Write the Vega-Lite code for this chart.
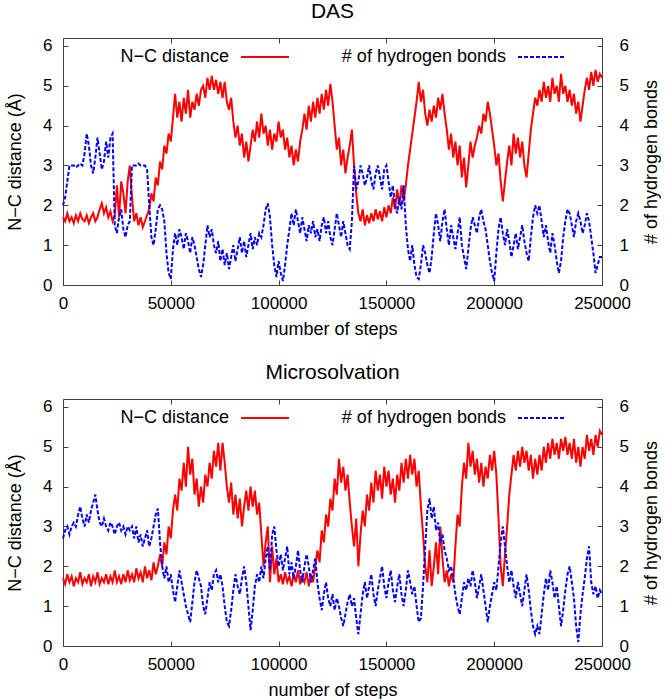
{
"$schema": "https://vega.github.io/schema/vega-lite/v6.json",
"padding": {"left": 5, "top": 0, "right": 0, "bottom": 0},
"background": "white",
"spacing": 22,
"config": {
  "font": "Liberation Sans",
  "view": {"stroke": "#404040", "strokeWidth": 1},
  "axis": {"grid": false, "domain": false, "tickSize": -5, "tickColor": "#404040", "labelFontSize": 17, "titleFontSize": 18, "titleFontWeight": "normal", "labelColor": "#000", "titleColor": "#000", "labelFlush": false, "labelOverlap": false, "labelPadding": 16, "titlePadding": 8},
  "axisX": {"labelPadding": 15, "titlePadding": 9},
  "title": {"fontSize": 21, "fontWeight": "normal", "color": "#000", "offset": 10},
  "legend": {"orient": "none", "direction": "horizontal", "legendX": 177, "legendY": -6, "title": null, "symbolType": "stroke", "symbolSize": 2304, "symbolStrokeWidth": 2, "labelFontSize": 18, "labelColor": "#000", "labelAlign": "right", "labelOffset": -61, "labelLimit": 400, "columnPadding": 48}
},
"datasets": {
"das": [
{"s":0,"d":1.7,"h":2.0},{"s":1000,"d":1.6,"h":2.2},{"s":2000,"d":1.8,"h":2.6},{"s":3000,"d":1.6,"h":3.0},{"s":4000,"d":1.7,"h":3.0},{"s":5000,"d":1.55,"h":3.0},{"s":6000,"d":1.75,"h":2.95},{"s":7000,"d":1.6,"h":3.0},{"s":8000,"d":1.8,"h":3.05},{"s":9000,"d":1.65,"h":3.0},
{"s":10000,"d":1.6,"h":3.3},{"s":11000,"d":1.75,"h":3.8},{"s":12000,"d":1.55,"h":3.5},{"s":13000,"d":1.7,"h":3.0},{"s":14000,"d":1.8,"h":2.8},{"s":15000,"d":1.6,"h":3.2},{"s":16000,"d":1.7,"h":3.7},{"s":17000,"d":1.9,"h":3.3},{"s":18000,"d":2.05,"h":2.9},{"s":19000,"d":1.8,"h":3.1},
{"s":20000,"d":1.95,"h":3.6},{"s":21000,"d":1.7,"h":3.2},{"s":22000,"d":1.85,"h":3.7},{"s":23000,"d":1.6,"h":3.8},{"s":24000,"d":1.75,"h":1.5},{"s":25000,"d":2.5,"h":1.3},{"s":26000,"d":1.7,"h":1.7},{"s":27000,"d":2.6,"h":1.9},{"s":28000,"d":2.3,"h":1.4},{"s":29000,"d":1.8,"h":1.2},
{"s":30000,"d":2.6,"h":1.5},{"s":31000,"d":3.0,"h":1.6},{"s":32000,"d":2.2,"h":3.0},{"s":33000,"d":1.6,"h":3.0},{"s":34000,"d":1.8,"h":3.0},{"s":35000,"d":1.5,"h":3.05},{"s":36000,"d":1.7,"h":3.0},{"s":37000,"d":1.45,"h":3.0},{"s":38000,"d":1.6,"h":3.0},{"s":39000,"d":1.75,"h":2.9},
{"s":40000,"d":1.9,"h":2.0},{"s":41000,"d":2.3,"h":1.2},{"s":42000,"d":2.1,"h":1.0},{"s":43000,"d":2.7,"h":1.4},{"s":44000,"d":2.5,"h":1.9},{"s":45000,"d":3.1,"h":2.0},{"s":46000,"d":2.9,"h":1.9},{"s":47000,"d":3.5,"h":1.6},{"s":48000,"d":3.3,"h":0.8},{"s":49000,"d":3.8,"h":0.3},
{"s":50000,"d":3.6,"h":0.15},{"s":51000,"d":4.2,"h":0.9},{"s":52000,"d":4.8,"h":1.3},{"s":53000,"d":4.2,"h":1.0},{"s":54000,"d":4.6,"h":1.4},{"s":55000,"d":4.1,"h":1.2},{"s":56000,"d":4.7,"h":0.9},{"s":57000,"d":4.3,"h":1.3},{"s":58000,"d":4.9,"h":1.1},{"s":59000,"d":4.2,"h":0.8},
{"s":60000,"d":4.6,"h":1.2},{"s":61000,"d":4.4,"h":1.0},{"s":62000,"d":4.8,"h":0.7},{"s":63000,"d":4.5,"h":0.4},{"s":64000,"d":4.9,"h":0.2},{"s":65000,"d":5.0,"h":0.5},{"s":66000,"d":4.7,"h":1.0},{"s":67000,"d":5.2,"h":1.5},{"s":68000,"d":4.9,"h":1.2},{"s":69000,"d":5.25,"h":1.4},
{"s":70000,"d":4.9,"h":1.0},{"s":71000,"d":5.15,"h":0.8},{"s":72000,"d":4.8,"h":1.1},{"s":73000,"d":5.1,"h":0.6},{"s":74000,"d":4.7,"h":0.9},{"s":75000,"d":5.1,"h":0.5},{"s":76000,"d":4.6,"h":0.8},{"s":77000,"d":4.4,"h":0.4},{"s":78000,"d":4.7,"h":0.7},{"s":79000,"d":4.1,"h":1.0},
{"s":80000,"d":3.7,"h":0.6},{"s":81000,"d":4.0,"h":0.9},{"s":82000,"d":3.5,"h":1.2},{"s":83000,"d":3.8,"h":0.8},{"s":84000,"d":3.2,"h":1.1},{"s":85000,"d":3.6,"h":0.7},{"s":86000,"d":3.1,"h":1.0},{"s":87000,"d":3.5,"h":1.3},{"s":88000,"d":3.9,"h":0.9},{"s":89000,"d":3.6,"h":1.2},
{"s":90000,"d":4.1,"h":1.0},{"s":91000,"d":3.7,"h":1.3},{"s":92000,"d":4.3,"h":1.2},{"s":93000,"d":3.8,"h":1.5},{"s":94000,"d":4.0,"h":1.9},{"s":95000,"d":3.5,"h":2.05},{"s":96000,"d":3.9,"h":1.7},{"s":97000,"d":3.4,"h":1.0},{"s":98000,"d":3.8,"h":0.5},{"s":99000,"d":3.6,"h":0.2},
{"s":100000,"d":4.1,"h":0.6},{"s":101000,"d":3.7,"h":0.3},{"s":102000,"d":3.9,"h":0.1},{"s":103000,"d":3.4,"h":0.5},{"s":104000,"d":3.7,"h":1.0},{"s":105000,"d":3.2,"h":1.4},{"s":106000,"d":3.5,"h":1.8},{"s":107000,"d":3.0,"h":1.5},{"s":108000,"d":3.4,"h":1.9},{"s":109000,"d":3.1,"h":1.6},
{"s":110000,"d":3.6,"h":1.3},{"s":111000,"d":3.9,"h":1.7},{"s":112000,"d":4.3,"h":1.4},{"s":113000,"d":3.9,"h":1.1},{"s":114000,"d":4.5,"h":1.5},{"s":115000,"d":4.1,"h":1.3},{"s":116000,"d":4.6,"h":1.6},{"s":117000,"d":4.2,"h":1.2},{"s":118000,"d":4.7,"h":1.4},{"s":119000,"d":4.3,"h":1.1},
{"s":120000,"d":4.8,"h":1.5},{"s":121000,"d":4.4,"h":1.7},{"s":122000,"d":4.9,"h":1.3},{"s":123000,"d":4.5,"h":1.6},{"s":124000,"d":5.05,"h":1.2},{"s":125000,"d":4.6,"h":1.0},{"s":126000,"d":4.0,"h":1.4},{"s":127000,"d":3.4,"h":1.8},{"s":128000,"d":3.7,"h":1.5},{"s":129000,"d":3.0,"h":1.2},
{"s":130000,"d":3.4,"h":1.6},{"s":131000,"d":2.8,"h":1.3},{"s":132000,"d":3.2,"h":1.0},{"s":133000,"d":3.5,"h":0.9},{"s":134000,"d":3.9,"h":1.6},{"s":135000,"d":3.0,"h":3.0},{"s":136000,"d":2.3,"h":2.4},{"s":137000,"d":1.8,"h":2.6},{"s":138000,"d":1.6,"h":3.0},{"s":139000,"d":1.9,"h":2.8},
{"s":140000,"d":1.5,"h":2.5},{"s":141000,"d":1.75,"h":2.7},{"s":142000,"d":1.55,"h":3.0},{"s":143000,"d":1.8,"h":2.6},{"s":144000,"d":1.6,"h":2.4},{"s":145000,"d":1.9,"h":2.8},{"s":146000,"d":1.65,"h":3.0},{"s":147000,"d":1.85,"h":2.7},{"s":148000,"d":1.6,"h":2.4},{"s":149000,"d":1.95,"h":2.9},
{"s":150000,"d":1.7,"h":3.0},{"s":151000,"d":2.0,"h":2.6},{"s":152000,"d":1.8,"h":2.2},{"s":153000,"d":2.2,"h":2.5},{"s":154000,"d":1.9,"h":2.0},{"s":155000,"d":2.4,"h":1.8},{"s":156000,"d":2.0,"h":2.2},{"s":157000,"d":2.5,"h":1.9},{"s":158000,"d":2.1,"h":2.5},{"s":159000,"d":2.5,"h":1.5},
{"s":160000,"d":3.0,"h":0.9},{"s":161000,"d":3.4,"h":0.6},{"s":162000,"d":3.8,"h":1.0},{"s":163000,"d":4.2,"h":0.5},{"s":164000,"d":4.6,"h":0.2},{"s":165000,"d":5.1,"h":0.15},{"s":166000,"d":4.6,"h":0.5},{"s":167000,"d":4.9,"h":1.0},{"s":168000,"d":4.3,"h":0.8},{"s":169000,"d":4.0,"h":0.5},
{"s":170000,"d":4.4,"h":0.3},{"s":171000,"d":4.1,"h":0.7},{"s":172000,"d":4.5,"h":1.3},{"s":173000,"d":4.2,"h":1.8},{"s":174000,"d":4.7,"h":1.5},{"s":175000,"d":4.4,"h":1.1},{"s":176000,"d":4.8,"h":1.6},{"s":177000,"d":4.3,"h":1.9},{"s":178000,"d":3.9,"h":1.4},{"s":179000,"d":3.4,"h":1.0},
{"s":180000,"d":3.8,"h":1.5},{"s":181000,"d":3.2,"h":1.2},{"s":182000,"d":3.6,"h":0.9},{"s":183000,"d":3.0,"h":1.3},{"s":184000,"d":3.5,"h":1.7},{"s":185000,"d":2.7,"h":1.0},{"s":186000,"d":3.2,"h":0.7},{"s":187000,"d":2.45,"h":0.4},{"s":188000,"d":3.0,"h":0.9},{"s":189000,"d":3.6,"h":1.4},
{"s":190000,"d":3.2,"h":1.7},{"s":191000,"d":3.5,"h":1.5},{"s":192000,"d":3.7,"h":1.3},{"s":193000,"d":4.0,"h":1.7},{"s":194000,"d":3.8,"h":1.9},{"s":195000,"d":4.3,"h":1.6},{"s":196000,"d":4.1,"h":1.4},{"s":197000,"d":4.6,"h":1.0},{"s":198000,"d":4.3,"h":0.6},{"s":199000,"d":3.9,"h":0.3},
{"s":200000,"d":3.5,"h":0.1},{"s":201000,"d":3.0,"h":0.8},{"s":202000,"d":3.3,"h":1.4},{"s":203000,"d":2.6,"h":1.7},{"s":204000,"d":2.1,"h":1.3},{"s":205000,"d":2.6,"h":1.0},{"s":206000,"d":3.1,"h":1.4},{"s":207000,"d":3.5,"h":1.1},{"s":208000,"d":3.0,"h":0.7},{"s":209000,"d":3.8,"h":1.0},
{"s":210000,"d":3.3,"h":1.3},{"s":211000,"d":3.7,"h":0.9},{"s":212000,"d":3.2,"h":1.2},{"s":213000,"d":3.6,"h":1.5},{"s":214000,"d":3.0,"h":1.1},{"s":215000,"d":2.7,"h":0.8},{"s":216000,"d":3.3,"h":0.6},{"s":217000,"d":3.9,"h":1.2},{"s":218000,"d":4.3,"h":1.7},{"s":219000,"d":4.7,"h":2.0},
{"s":220000,"d":4.5,"h":1.8},{"s":221000,"d":4.9,"h":2.0},{"s":222000,"d":4.6,"h":1.6},{"s":223000,"d":5.1,"h":1.2},{"s":224000,"d":4.7,"h":1.5},{"s":225000,"d":5.0,"h":1.1},{"s":226000,"d":4.6,"h":0.8},{"s":227000,"d":5.2,"h":1.3},{"s":228000,"d":4.8,"h":1.0},{"s":229000,"d":5.0,"h":0.6},
{"s":230000,"d":4.6,"h":0.3},{"s":231000,"d":5.3,"h":0.6},{"s":232000,"d":4.8,"h":1.2},{"s":233000,"d":5.0,"h":1.6},{"s":234000,"d":4.6,"h":1.9},{"s":235000,"d":4.9,"h":1.8},{"s":236000,"d":4.5,"h":1.5},{"s":237000,"d":4.8,"h":1.2},{"s":238000,"d":4.3,"h":1.6},{"s":239000,"d":4.6,"h":1.8},
{"s":240000,"d":4.1,"h":1.6},{"s":241000,"d":4.5,"h":1.3},{"s":242000,"d":4.9,"h":1.5},{"s":243000,"d":5.2,"h":1.8},{"s":244000,"d":4.9,"h":1.6},{"s":245000,"d":5.35,"h":1.2},{"s":246000,"d":5.0,"h":0.8},{"s":247000,"d":5.4,"h":0.3},{"s":248000,"d":5.1,"h":0.5},{"s":249000,"d":5.3,"h":0.7},
{"s":250000,"d":5.2,"h":0.7}
],
"mic": [
{"s":0,"d":1.7,"h":2.7},{"s":1000,"d":1.55,"h":2.9},{"s":2000,"d":1.8,"h":3.0},{"s":3000,"d":1.6,"h":2.8},{"s":4000,"d":1.75,"h":3.0},{"s":5000,"d":1.5,"h":3.1},{"s":6000,"d":1.7,"h":3.0},{"s":7000,"d":1.6,"h":3.3},{"s":8000,"d":1.85,"h":3.5},{"s":9000,"d":1.55,"h":3.2},
{"s":10000,"d":1.7,"h":3.0},{"s":11000,"d":1.6,"h":3.3},{"s":12000,"d":1.8,"h":3.1},{"s":13000,"d":1.5,"h":3.4},{"s":14000,"d":1.75,"h":3.6},{"s":15000,"d":1.6,"h":3.8},{"s":16000,"d":1.85,"h":3.4},{"s":17000,"d":1.55,"h":3.1},{"s":18000,"d":1.7,"h":3.0},{"s":19000,"d":1.6,"h":3.2},
{"s":20000,"d":1.8,"h":3.0},{"s":21000,"d":1.55,"h":2.9},{"s":22000,"d":1.75,"h":3.1},{"s":23000,"d":1.6,"h":3.0},{"s":24000,"d":1.9,"h":2.8},{"s":25000,"d":1.6,"h":3.0},{"s":26000,"d":1.75,"h":3.1},{"s":27000,"d":1.55,"h":2.9},{"s":28000,"d":1.8,"h":3.0},{"s":29000,"d":1.6,"h":2.8},
{"s":30000,"d":1.9,"h":3.0},{"s":31000,"d":1.65,"h":2.9},{"s":32000,"d":1.8,"h":3.0},{"s":33000,"d":1.6,"h":2.7},{"s":34000,"d":1.95,"h":3.0},{"s":35000,"d":1.7,"h":2.6},{"s":36000,"d":1.85,"h":2.8},{"s":37000,"d":1.6,"h":2.5},{"s":38000,"d":2.0,"h":2.7},{"s":39000,"d":1.7,"h":2.9},
{"s":40000,"d":1.9,"h":2.5},{"s":41000,"d":1.65,"h":2.7},{"s":42000,"d":2.1,"h":3.0},{"s":43000,"d":1.8,"h":3.3},{"s":44000,"d":2.0,"h":3.45},{"s":45000,"d":2.3,"h":2.6},{"s":46000,"d":2.0,"h":2.0},{"s":47000,"d":2.6,"h":1.7},{"s":48000,"d":2.3,"h":2.0},{"s":49000,"d":3.0,"h":1.6},
{"s":50000,"d":2.7,"h":1.8},{"s":51000,"d":3.4,"h":1.4},{"s":52000,"d":3.8,"h":1.1},{"s":53000,"d":3.4,"h":1.5},{"s":54000,"d":4.2,"h":1.9},{"s":55000,"d":3.9,"h":1.6},{"s":56000,"d":4.6,"h":1.3},{"s":57000,"d":4.0,"h":1.0},{"s":58000,"d":5.0,"h":0.8},{"s":59000,"d":4.3,"h":0.6},
{"s":60000,"d":4.7,"h":1.1},{"s":61000,"d":3.8,"h":1.6},{"s":62000,"d":4.2,"h":1.9},{"s":63000,"d":3.5,"h":1.7},{"s":64000,"d":4.0,"h":1.5},{"s":65000,"d":3.6,"h":1.0},{"s":66000,"d":4.3,"h":0.8},{"s":67000,"d":4.0,"h":1.2},{"s":68000,"d":4.6,"h":1.6},{"s":69000,"d":4.2,"h":1.4},
{"s":70000,"d":4.9,"h":1.8},{"s":71000,"d":4.5,"h":1.9},{"s":72000,"d":5.1,"h":1.6},{"s":73000,"d":4.4,"h":1.8},{"s":74000,"d":5.1,"h":1.5},{"s":75000,"d":4.6,"h":1.0},{"s":76000,"d":4.0,"h":0.6},{"s":77000,"d":3.6,"h":0.5},{"s":78000,"d":4.1,"h":0.9},{"s":79000,"d":3.3,"h":1.4},
{"s":80000,"d":3.8,"h":1.8},{"s":81000,"d":3.2,"h":1.5},{"s":82000,"d":3.7,"h":1.3},{"s":83000,"d":3.0,"h":1.7},{"s":84000,"d":3.5,"h":2.0},{"s":85000,"d":3.9,"h":1.6},{"s":86000,"d":3.4,"h":1.0},{"s":87000,"d":4.0,"h":0.4},{"s":88000,"d":3.5,"h":0.9},{"s":89000,"d":3.9,"h":1.5},
{"s":90000,"d":3.3,"h":1.8},{"s":91000,"d":3.6,"h":1.6},{"s":92000,"d":2.8,"h":2.0},{"s":93000,"d":2.0,"h":1.7},{"s":94000,"d":2.6,"h":2.2},{"s":95000,"d":3.0,"h":2.5},{"s":96000,"d":1.6,"h":1.9},{"s":97000,"d":2.5,"h":2.8},{"s":98000,"d":1.8,"h":3.0},{"s":99000,"d":2.2,"h":2.4},
{"s":100000,"d":1.6,"h":2.0},{"s":101000,"d":1.8,"h":2.3},{"s":102000,"d":1.55,"h":1.9},{"s":103000,"d":1.85,"h":2.2},{"s":104000,"d":1.6,"h":2.5},{"s":105000,"d":1.75,"h":1.8},{"s":106000,"d":1.5,"h":2.1},{"s":107000,"d":1.8,"h":1.7},{"s":108000,"d":1.6,"h":2.0},{"s":109000,"d":1.9,"h":2.4},
{"s":110000,"d":1.55,"h":1.9},{"s":111000,"d":1.75,"h":1.6},{"s":112000,"d":1.6,"h":2.0},{"s":113000,"d":1.85,"h":2.3},{"s":114000,"d":1.5,"h":2.0},{"s":115000,"d":1.8,"h":1.6},{"s":116000,"d":1.6,"h":1.9},{"s":117000,"d":2.0,"h":2.2},{"s":118000,"d":2.4,"h":1.6},{"s":119000,"d":2.1,"h":1.2},
{"s":120000,"d":2.9,"h":0.9},{"s":121000,"d":2.6,"h":1.3},{"s":122000,"d":3.3,"h":1.6},{"s":123000,"d":3.0,"h":1.2},{"s":124000,"d":3.7,"h":1.0},{"s":125000,"d":3.4,"h":1.3},{"s":126000,"d":4.2,"h":0.9},{"s":127000,"d":3.8,"h":1.2},{"s":128000,"d":4.7,"h":1.0},{"s":129000,"d":4.1,"h":0.7},
{"s":130000,"d":4.5,"h":0.5},{"s":131000,"d":3.9,"h":0.8},{"s":132000,"d":4.3,"h":1.1},{"s":133000,"d":3.6,"h":1.3},{"s":134000,"d":3.0,"h":1.0},{"s":135000,"d":2.5,"h":1.2},{"s":136000,"d":3.2,"h":0.7},{"s":137000,"d":2.0,"h":0.3},{"s":138000,"d":2.8,"h":0.8},{"s":139000,"d":3.4,"h":1.3},
{"s":140000,"d":3.0,"h":1.6},{"s":141000,"d":3.8,"h":1.2},{"s":142000,"d":3.4,"h":1.5},{"s":143000,"d":4.1,"h":1.8},{"s":144000,"d":3.6,"h":1.3},{"s":145000,"d":4.4,"h":1.0},{"s":146000,"d":3.9,"h":1.4},{"s":147000,"d":4.3,"h":1.7},{"s":148000,"d":3.7,"h":2.0},{"s":149000,"d":4.5,"h":1.5},
{"s":150000,"d":4.0,"h":1.2},{"s":151000,"d":4.4,"h":1.6},{"s":152000,"d":3.8,"h":1.9},{"s":153000,"d":4.2,"h":1.4},{"s":154000,"d":3.6,"h":1.1},{"s":155000,"d":4.3,"h":1.5},{"s":156000,"d":3.9,"h":1.8},{"s":157000,"d":4.6,"h":1.3},{"s":158000,"d":4.1,"h":1.0},{"s":159000,"d":4.7,"h":1.4},
{"s":160000,"d":4.2,"h":1.9},{"s":161000,"d":4.8,"h":1.6},{"s":162000,"d":4.3,"h":1.3},{"s":163000,"d":4.7,"h":1.5},{"s":164000,"d":4.0,"h":1.0},{"s":165000,"d":4.4,"h":0.6},{"s":166000,"d":3.5,"h":0.7},{"s":167000,"d":2.8,"h":1.5},{"s":168000,"d":2.0,"h":2.5},{"s":169000,"d":1.6,"h":3.4},
{"s":170000,"d":2.4,"h":3.7},{"s":171000,"d":1.5,"h":3.2},{"s":172000,"d":2.0,"h":3.5},{"s":173000,"d":2.6,"h":2.9},{"s":174000,"d":1.8,"h":3.1},{"s":175000,"d":3.0,"h":2.6},{"s":176000,"d":2.2,"h":2.8},{"s":177000,"d":1.6,"h":2.4},{"s":178000,"d":1.9,"h":2.2},{"s":179000,"d":1.5,"h":1.9},
{"s":180000,"d":1.8,"h":2.0},{"s":181000,"d":1.6,"h":1.7},{"s":182000,"d":2.5,"h":1.3},{"s":183000,"d":3.3,"h":1.0},{"s":184000,"d":3.0,"h":0.8},{"s":185000,"d":4.0,"h":1.2},{"s":186000,"d":4.6,"h":1.6},{"s":187000,"d":4.2,"h":1.4},{"s":188000,"d":5.1,"h":1.7},{"s":189000,"d":4.5,"h":1.5},
{"s":190000,"d":4.9,"h":1.9},{"s":191000,"d":4.3,"h":1.6},{"s":192000,"d":4.7,"h":1.2},{"s":193000,"d":4.1,"h":1.5},{"s":194000,"d":4.6,"h":1.8},{"s":195000,"d":4.0,"h":1.4},{"s":196000,"d":4.5,"h":1.0},{"s":197000,"d":4.2,"h":0.6},{"s":198000,"d":4.8,"h":1.0},{"s":199000,"d":4.4,"h":1.3},
{"s":200000,"d":4.9,"h":1.6},{"s":201000,"d":4.3,"h":1.4},{"s":202000,"d":3.2,"h":2.0},{"s":203000,"d":2.0,"h":2.6},{"s":204000,"d":1.5,"h":3.0},{"s":205000,"d":2.3,"h":2.5},{"s":206000,"d":3.0,"h":2.0},{"s":207000,"d":3.8,"h":1.6},{"s":208000,"d":4.3,"h":1.9},{"s":209000,"d":4.8,"h":1.5},
{"s":210000,"d":4.4,"h":1.2},{"s":211000,"d":4.9,"h":1.6},{"s":212000,"d":4.5,"h":1.3},{"s":213000,"d":5.0,"h":1.0},{"s":214000,"d":4.6,"h":1.4},{"s":215000,"d":4.9,"h":1.8},{"s":216000,"d":4.4,"h":1.4},{"s":217000,"d":4.8,"h":0.9},{"s":218000,"d":4.2,"h":0.5},{"s":219000,"d":4.7,"h":0.3},
{"s":220000,"d":4.3,"h":0.5},{"s":221000,"d":4.8,"h":0.3},{"s":222000,"d":4.4,"h":0.8},{"s":223000,"d":5.0,"h":1.3},{"s":224000,"d":4.6,"h":1.7},{"s":225000,"d":5.1,"h":1.4},{"s":226000,"d":4.7,"h":1.9},{"s":227000,"d":5.2,"h":1.6},{"s":228000,"d":4.8,"h":1.2},{"s":229000,"d":5.1,"h":1.5},
{"s":230000,"d":4.7,"h":1.0},{"s":231000,"d":5.2,"h":0.5},{"s":232000,"d":4.9,"h":0.9},{"s":233000,"d":5.25,"h":1.4},{"s":234000,"d":4.8,"h":1.8},{"s":235000,"d":5.1,"h":2.0},{"s":236000,"d":4.7,"h":1.6},{"s":237000,"d":5.2,"h":1.2},{"s":238000,"d":4.6,"h":0.5},{"s":239000,"d":5.0,"h":0.1},
{"s":240000,"d":4.5,"h":0.8},{"s":241000,"d":5.0,"h":1.3},{"s":242000,"d":4.7,"h":1.7},{"s":243000,"d":5.3,"h":2.2},{"s":244000,"d":4.9,"h":2.5},{"s":245000,"d":5.2,"h":1.6},{"s":246000,"d":4.8,"h":1.3},{"s":247000,"d":5.3,"h":1.5},{"s":248000,"d":5.0,"h":1.2},{"s":249000,"d":5.4,"h":1.4},
{"s":250000,"d":5.3,"h":1.3}
]
},
"resolve": {"scale": {"color": "independent"}},
"vconcat": [
{
  "title": {"text": "DAS"},
  "width": 539, "height": 247,
  "data": {"name": "das"},
  "layer": [
    {"mark": {"type": "line", "strokeWidth": 2},
     "encoding": {
       "x": {"field": "s", "type": "quantitative", "scale": {"domain": [0, 250000], "nice": false}, "axis": {"values": [0, 50000, 100000, 150000, 200000, 250000], "format": "d", "title": "number of steps"}},
       "y": {"field": "d", "type": "quantitative", "scale": {"domain": [0, 6.2], "nice": false}, "axis": {"orient": "left", "values": [0, 1, 2, 3, 4, 5, 6], "title": "N−C distance (Å)", "titleAngle": 270, "titleX": -48, "titleY": 123.5, "titleAlign": "center", "titleBaseline": "middle"}},
       "color": {"datum": "N−C distance", "type": "nominal", "scale": {"domain": ["N−C distance", "# of hydrogen bonds"], "range": ["#ff0000", "#0000ff"]},
         "legend": {"encode": {"symbols": {"update": {"strokeDash": {"signal": "datum.value === '# of hydrogen bonds' ? [4,2] : [1,0]"}}}}}}
     }},
    {"mark": {"type": "line", "strokeWidth": 2, "strokeDash": [4, 2]},
     "encoding": {
       "x": {"field": "s", "type": "quantitative", "axis": {"orient": "top", "values": [0, 50000, 100000, 150000, 200000, 250000], "labels": false, "title": null}},
       "y": {"field": "h", "type": "quantitative", "scale": {"domain": [0, 6.2], "nice": false}, "axis": {"orient": "right", "values": [0, 1, 2, 3, 4, 5, 6], "labelPadding": 22, "title": "# of hydrogen bonds", "titleAngle": 270, "titleX": 49, "titleY": 123.5, "titleAlign": "center", "titleBaseline": "middle"}},
       "color": {"datum": "# of hydrogen bonds", "type": "nominal"}
     }}
  ],
  "resolve": {"scale": {"y": "independent"}, "axis": {"x": "independent"}}
},
{
  "title": {"text": "Microsolvation"},
  "width": 539, "height": 247,
  "data": {"name": "mic"},
  "layer": [
    {"mark": {"type": "line", "strokeWidth": 2},
     "encoding": {
       "x": {"field": "s", "type": "quantitative", "scale": {"domain": [0, 250000], "nice": false}, "axis": {"values": [0, 50000, 100000, 150000, 200000, 250000], "format": "d", "title": "number of steps"}},
       "y": {"field": "d", "type": "quantitative", "scale": {"domain": [0, 6.2], "nice": false}, "axis": {"orient": "left", "values": [0, 1, 2, 3, 4, 5, 6], "title": "N−C distance (Å)", "titleAngle": 270, "titleX": -48, "titleY": 123.5, "titleAlign": "center", "titleBaseline": "middle"}},
       "color": {"datum": "N−C distance", "type": "nominal", "scale": {"domain": ["N−C distance", "# of hydrogen bonds"], "range": ["#ff0000", "#0000ff"]},
         "legend": {"encode": {"symbols": {"update": {"strokeDash": {"signal": "datum.value === '# of hydrogen bonds' ? [4,2] : [1,0]"}}}}}}
     }},
    {"mark": {"type": "line", "strokeWidth": 2, "strokeDash": [4, 2]},
     "encoding": {
       "x": {"field": "s", "type": "quantitative", "axis": {"orient": "top", "values": [0, 50000, 100000, 150000, 200000, 250000], "labels": false, "title": null}},
       "y": {"field": "h", "type": "quantitative", "scale": {"domain": [0, 6.2], "nice": false}, "axis": {"orient": "right", "values": [0, 1, 2, 3, 4, 5, 6], "labelPadding": 22, "title": "# of hydrogen bonds", "titleAngle": 270, "titleX": 49, "titleY": 123.5, "titleAlign": "center", "titleBaseline": "middle"}},
       "color": {"datum": "# of hydrogen bonds", "type": "nominal"}
     }}
  ],
  "resolve": {"scale": {"y": "independent"}, "axis": {"x": "independent"}}
}
]
}
